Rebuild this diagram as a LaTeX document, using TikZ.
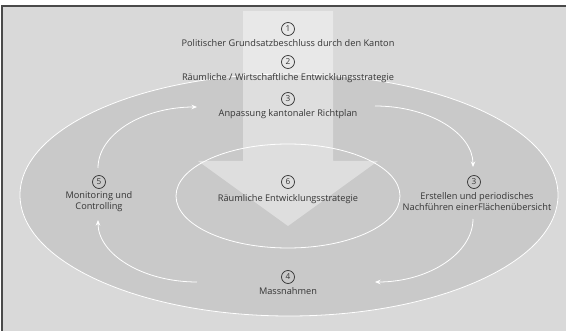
\documentclass[tikz,border=0pt]{standalone}
\usepackage{fontspec}
\setmainfont{Open Sans}
\usetikzlibrary{arrows.meta}
\definecolor{bgc}{HTML}{D9D9D9}
\definecolor{ellc}{HTML}{C9C9C9}
\definecolor{framec}{HTML}{4A4A4A}
\definecolor{txtc}{HTML}{353535}
\begin{document}
\begin{tikzpicture}[x=1pt,y=-1pt,
  lbl/.style={text=txtc, inner sep=0pt, align=center, font=\fontsize{9.2}{11.5}\selectfont},
  numc/.style={circle, draw=txtc, text=txtc, line width=0.7pt, minimum size=13pt, inner sep=0pt, font=\fontsize{8.2}{8}\selectfont},
  cyc/.style={white, line width=0.8pt, -{Stealth[length=5.5pt,width=4.5pt]}},
  ringline/.style={white, line width=0.8pt}]
\useasboundingbox (0,0) rectangle (566,331);
\fill[white] (0,0) rectangle (566,331);
\fill[bgc] (2,6) rectangle (566,331);
\draw[framec, line width=1.4pt] (2,331) -- (2,6) -- (566,6);
% ellipses
\draw[ringline, fill=ellc] (289,195) ellipse [x radius=269, y radius=121];
\draw[ringline] (288,196) ellipse [x radius=112, y radius=52];
% big arrow
\fill[white, fill opacity=0.4] (243,11) -- (333,11) -- (333,161) -- (378,161) -- (288,226) -- (198,161) -- (243,161) -- cycle;
% cycle arrows
\coordinate (a1s) at (98,168);  \coordinate (a1e) at (197,107);
\coordinate (a2s) at (375,106); \coordinate (a2e) at (473,167);
\coordinate (a3s) at (473,219); \coordinate (a3e) at (375,282);
\coordinate (a4s) at (197,282); \coordinate (a4e) at (98,220);
\draw[cyc] (a1s) .. controls +(0,-33.7) and +(-54.6,0) .. (a1e);
\draw[cyc] (a2s) .. controls +(54,0) and +(0,-33.7) .. (a2e);
\draw[cyc] (a3s) .. controls +(0,34) and +(54,0) .. (a3e);
\draw[cyc] (a4s) .. controls +(-54.6,0) and +(0,34) .. (a4e);
% texts
\node[numc] (n1) at (288,29) {1};
\node[lbl] (t1) at (288,43) {Politischer Grundsatzbeschluss durch den Kanton};
\node[numc] (n2) at (288,62) {2};
\node[lbl] (t2) at (288,78) {Räumliche / Wirtschaftliche Entwicklungsstrategie};
\node[numc] (n3) at (288,99) {3};
\node[lbl] (t3) at (288,114) {Anpassung kantonaler Richtplan};
\node[numc] (n6) at (288,182) {6};
\node[lbl] (t6) at (288,199) {Räumliche Entwicklungsstrategie};
\node[numc] (n5) at (99,182) {5};
\node[lbl] (t5) at (99,201.5) {Monitoring und\\Controlling};
\node[numc] (n3b) at (474,182) {3};
\node[lbl] (t3b) at (477,201.5) {Erstellen und periodisches\\Nachführen einerFlächenübersicht};
\node[numc] (n4) at (288,277) {4};
\node[lbl] (t4) at (288,291) {Massnahmen};
\end{tikzpicture}
\end{document}
